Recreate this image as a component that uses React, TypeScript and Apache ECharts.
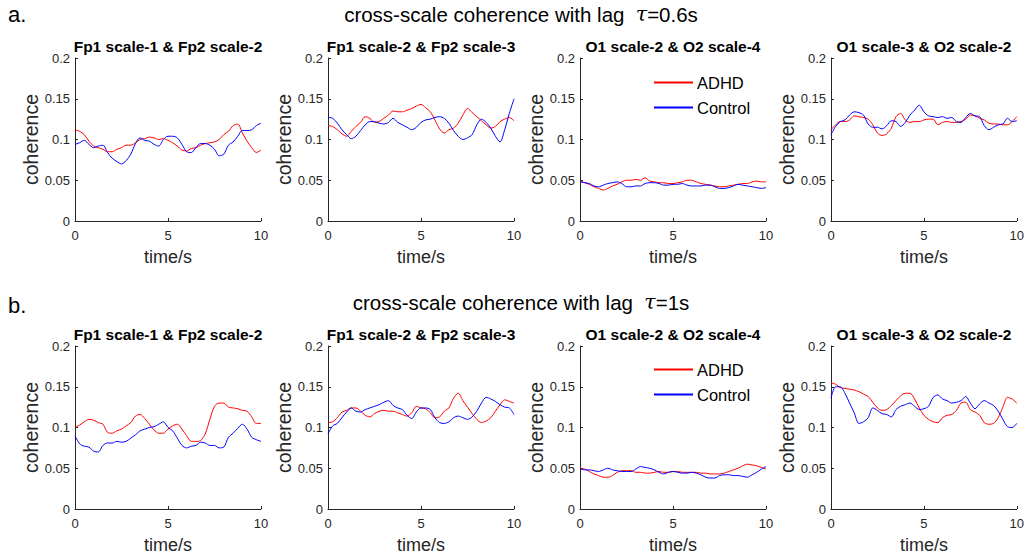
import React, { useEffect, useRef } from "react";
import * as echarts from "echarts";

const TIME = [0, 0.25, 0.5, 0.75, 1, 1.25, 1.5, 1.75, 2, 2.25, 2.5, 2.75, 3, 3.25, 3.5, 3.75, 4, 4.25, 4.5, 4.75, 5, 5.25, 5.5, 5.75, 6, 6.25, 6.5, 6.75, 7, 7.25, 7.5, 7.75, 8, 8.25, 8.5, 8.75, 9, 9.25, 9.5, 9.75, 10];

const PANEL_TITLES = ["Fp1 scale-1 & Fp2 scale-2", "Fp1 scale-2 & Fp2 scale-3", "O1 scale-2 & O2 scale-4", "O1 scale-3 & O2 scale-2"];
const ROW_TITLES = ["0.6s", "1s"];
const ROW_LABELS = ["a.", "b."];
const X_TICKS = [0, 5, 10];
const Y_TICKS = [0, 0.05, 0.1, 0.15, 0.2];

// Row a (lag 0.6s)
const A1_ADHD = [.112, .110, .106, .098, .092, .090, .088, .085, .085, .088, .090, .093, .093, .096, .100, .101, .103, .102, .100, .101, .099, .096, .092, .087, .086, .089, .090, .093, .095, .096, .097, .100, .106, .110, .117, .119, .108, .098, .090, .084, .087];
const A1_CTRL = [.094, .096, .099, .094, .090, .092, .093, .084, .077, .073, .070, .074, .082, .095, .102, .099, .098, .094, .092, .100, .104, .104, .102, .094, .085, .084, .090, .095, .095, .093, .088, .080, .082, .093, .097, .104, .111, .111, .112, .117, .120];
const A2_ADHD = [.117, .116, .112, .107, .104, .110, .116, .121, .128, .126, .121, .122, .126, .130, .135, .134, .134, .136, .138, .141, .143, .139, .134, .124, .113, .108, .112, .114, .120, .130, .138, .133, .128, .123, .118, .114, .116, .122, .125, .127, .123];
const A2_CTRL = [.127, .126, .120, .112, .106, .101, .104, .111, .118, .122, .122, .120, .119, .121, .126, .121, .118, .115, .112, .115, .121, .124, .125, .127, .128, .126, .120, .111, .104, .100, .102, .106, .118, .125, .121, .114, .104, .097, .112, .132, .150];
const A3_ADHD = [.049, .047, .045, .042, .040, .038, .040, .043, .045, .048, .050, .050, .051, .050, .053, .049, .048, .047, .047, .046, .046, .047, .048, .050, .050, .048, .046, .045, .044, .043, .042, .042, .043, .044, .045, .046, .046, .048, .049, .048, .048];
const A3_CTRL = [.048, .047, .046, .043, .042, .044, .046, .047, .048, .046, .042, .042, .043, .043, .046, .047, .047, .046, .044, .044, .045, .045, .046, .044, .043, .043, .043, .044, .044, .042, .040, .040, .041, .043, .045, .044, .043, .042, .041, .040, .041];
const A4_ADHD = [.112, .118, .122, .122, .124, .129, .128, .127, .125, .118, .108, .105, .107, .114, .128, .132, .124, .121, .122, .122, .124, .125, .125, .118, .121, .122, .121, .121, .122, .125, .130, .129, .126, .124, .120, .119, .119, .118, .118, .122, .128];
const A4_CTRL = [.106, .116, .122, .124, .130, .134, .133, .130, .119, .115, .115, .113, .117, .123, .122, .116, .121, .130, .136, .142, .134, .129, .128, .127, .128, .126, .127, .122, .121, .127, .132, .129, .128, .117, .112, .115, .118, .119, .126, .122, .123];

// Row b (lag 1s)
const B1_ADHD = [.100, .103, .107, .110, .109, .106, .104, .094, .093, .096, .098, .102, .106, .114, .116, .111, .104, .097, .093, .093, .098, .102, .104, .098, .090, .083, .083, .084, .092, .110, .126, .130, .130, .125, .124, .123, .121, .120, .113, .105, .105];
const B1_CTRL = [.090, .080, .077, .076, .071, .070, .078, .081, .081, .083, .082, .083, .087, .091, .096, .098, .100, .101, .104, .107, .100, .096, .087, .078, .075, .077, .078, .082, .081, .078, .078, .075, .076, .088, .093, .099, .104, .098, .088, .085, .083];
const B2_ADHD = [.106, .107, .112, .119, .121, .124, .124, .120, .115, .113, .117, .120, .121, .120, .120, .118, .116, .114, .118, .126, .124, .123, .118, .112, .113, .120, .124, .136, .142, .133, .125, .117, .110, .106, .108, .112, .120, .128, .134, .132, .130];
const B2_CTRL = [.092, .102, .105, .112, .119, .124, .120, .119, .122, .124, .126, .128, .131, .133, .127, .124, .122, .115, .111, .119, .124, .124, .122, .112, .106, .105, .107, .112, .114, .112, .110, .113, .120, .130, .137, .135, .132, .128, .125, .124, .116];
const B3_ADHD = [.050, .049, .046, .043, .041, .039, .039, .041, .045, .047, .047, .047, .045, .045, .044, .044, .045, .046, .045, .045, .046, .046, .045, .045, .045, .045, .044, .044, .043, .043, .043, .044, .046, .048, .050, .053, .055, .054, .053, .051, .049];
const B3_CTRL = [.049, .048, .048, .047, .046, .048, .050, .048, .047, .046, .046, .046, .049, .052, .051, .050, .048, .045, .043, .045, .046, .045, .044, .044, .045, .044, .042, .039, .038, .038, .041, .042, .042, .041, .041, .040, .039, .042, .045, .049, .052];
const B4_ADHD = [.155, .153, .149, .148, .147, .146, .144, .141, .138, .131, .124, .121, .122, .127, .133, .139, .142, .142, .135, .124, .115, .110, .107, .106, .112, .115, .116, .121, .130, .131, .122, .119, .115, .106, .104, .105, .112, .125, .137, .135, .130];
const B4_CTRL = [.136, .150, .150, .142, .130, .118, .105, .107, .112, .124, .121, .117, .116, .113, .122, .126, .128, .130, .126, .122, .123, .126, .137, .140, .135, .133, .130, .131, .133, .138, .130, .123, .129, .133, .130, .127, .120, .110, .101, .100, .105];

const ADHD = [A1_ADHD, A2_ADHD, A3_ADHD, A4_ADHD, B1_ADHD, B2_ADHD, B3_ADHD, B4_ADHD];
const CTRL = [A1_CTRL, A2_CTRL, A3_CTRL, A4_CTRL, B1_CTRL, B2_CTRL, B3_CTRL, B4_CTRL];

const FONT = "'Liberation Sans', Arial, Helvetica, sans-serif";
const AXIS_COLOR = "#262626";

export default function App() {
  const ref = useRef<HTMLDivElement>(null);

  useEffect(() => {
    if (!ref.current) return;
    const chart = echarts.init(ref.current, undefined, { renderer: "svg" });

    const lefts = [75, 328, 580, 831];
    const tops = [58, 346];
    const W = 186;
    const H = 163;

    const grid: any[] = [];
    const xAxis: any[] = [];
    const yAxis: any[] = [];
    const series: any[] = [];
    const graphic: any[] = [];

    for (let r = 0; r < 2; r++) {
      for (let c = 0; c < 4; c++) {
        const i = r * 4 + c;
        grid.push({ left: lefts[c], top: tops[r], width: W, height: H, containLabel: false });
        xAxis.push({
          type: "value",
          gridIndex: i,
          min: X_TICKS[0],
          max: X_TICKS[X_TICKS.length - 1],
          interval: X_TICKS[1] - X_TICKS[0],
          name: "time/s",
          nameLocation: "middle",
          nameGap: 27,
          nameTextStyle: { fontSize: 18, color: AXIS_COLOR, fontFamily: FONT },
          axisLine: { show: true, lineStyle: { color: AXIS_COLOR, width: 1 } },
          axisTick: { show: true, inside: true, length: 3, lineStyle: { color: AXIS_COLOR } },
          axisLabel: { fontSize: 13, color: AXIS_COLOR, fontFamily: FONT, margin: 8 },
          splitLine: { show: false },
        });
        yAxis.push({
          type: "value",
          gridIndex: i,
          min: Y_TICKS[0],
          max: Y_TICKS[Y_TICKS.length - 1],
          interval: Y_TICKS[1] - Y_TICKS[0],
          name: "coherence",
          nameLocation: "middle",
          nameGap: 34,
          nameTextStyle: { fontSize: 19.5, color: AXIS_COLOR, fontFamily: FONT },
          axisLine: { show: true, lineStyle: { color: AXIS_COLOR, width: 1 } },
          axisTick: { show: true, inside: true, length: 3, lineStyle: { color: AXIS_COLOR } },
          axisLabel: {
            fontSize: 13,
            color: AXIS_COLOR,
            fontFamily: FONT,
            margin: 5,
            formatter: (v: number) => String(parseFloat(v.toFixed(3))),
          },
          splitLine: { show: false },
        });
        series.push({
          name: "ADHD",
          type: "line",
          xAxisIndex: i,
          yAxisIndex: i,
          data: TIME.map((t, k) => [t, ADHD[i][k]]),
          symbol: "none",
          smooth: 0.3,
          lineStyle: { color: "#ff0000", width: 1 },
          itemStyle: { color: "#ff0000" },
        });
        series.push({
          name: "Control",
          type: "line",
          xAxisIndex: i,
          yAxisIndex: i,
          data: TIME.map((t, k) => [t, CTRL[i][k]]),
          symbol: "none",
          smooth: 0.3,
          lineStyle: { color: "#0000ff", width: 1 },
          itemStyle: { color: "#0000ff" },
        });
        graphic.push({
          type: "text",
          x: lefts[c] + W / 2,
          y: tops[r] - 12,
          style: {
            text: PANEL_TITLES[c],
            font: `bold 15.5px ${FONT}`,
            fill: "#000",
            align: "center",
            verticalAlign: "middle",
          },
        });
      }
      graphic.push({
        type: "text",
        x: 521,
        y: tops[r] - 44,
        style: {
          text: `cross-scale coherence with lag  {i|τ}=${ROW_TITLES[r]}`,
          font: `20.5px ${FONT}`,
          fill: "#000",
          align: "center",
          verticalAlign: "middle",
          rich: { i: { fontSize: 20.5, fontStyle: "italic", fontFamily: "'DejaVu Serif', serif", fill: "#000" } },
        },
      });
      graphic.push({
        type: "text",
        x: 8,
        y: r === 0 ? 14 : 305,
        style: {
          text: ROW_LABELS[r],
          font: `22px ${FONT}`,
          fill: "#000",
          align: "left",
          verticalAlign: "middle",
        },
      });
    }

    const legendCommon = {
      data: ["ADHD", "Control"],
      orient: "vertical",
      left: 653,
      padding: 0,
      itemWidth: 39,
      itemHeight: 14,
      itemGap: 8,
      selectedMode: false,
      itemStyle: { opacity: 0 },
      textStyle: { fontSize: 16.5, color: "#000", fontFamily: FONT, padding: [0, 0, 0, -1] },
    };

    chart.setOption({
      animation: false,
      backgroundColor: "#fff",
      grid,
      xAxis,
      yAxis,
      series,
      graphic,
      legend: [
        { ...legendCommon, top: 74 },
        { ...legendCommon, top: 361 },
      ],
    });

    return () => chart.dispose();
  }, []);

  return (
    <div
      ref={ref}
      style={{ position: "absolute", left: 0, top: 0, width: 1027, height: 558 }}
    />
  );
}
